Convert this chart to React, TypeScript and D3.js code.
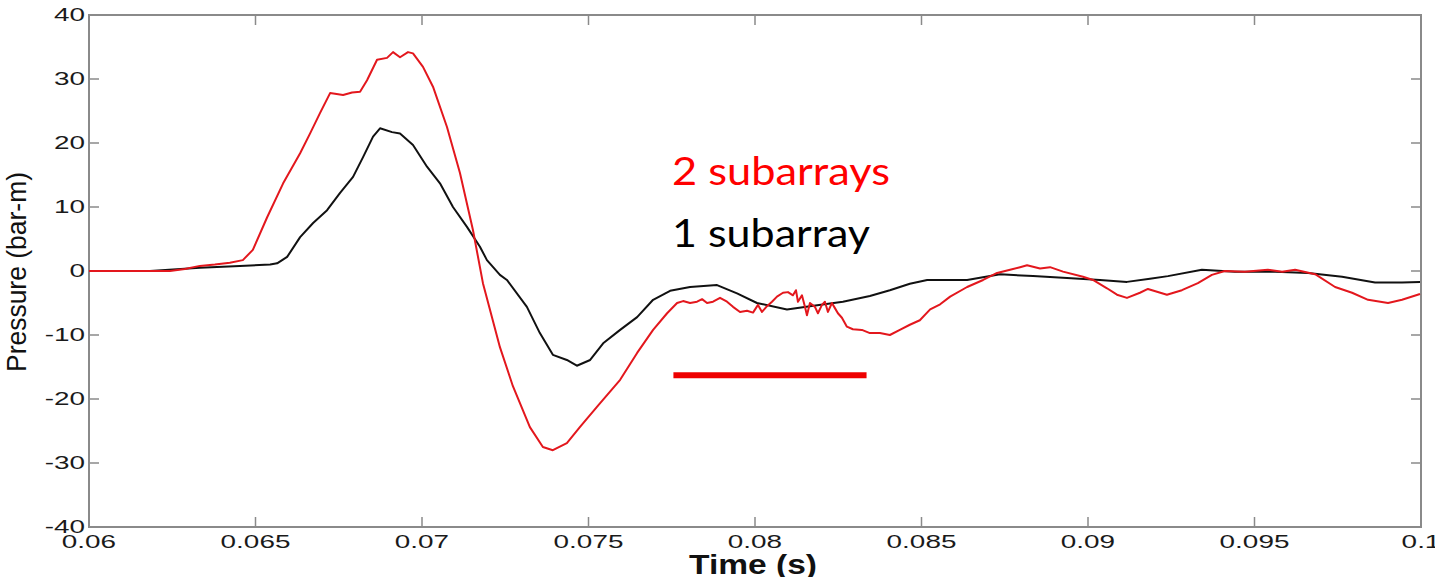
import React from 'react';
import * as d3 from 'd3';

// time (s) / pressure (bar-m)
const redTime = [
  0.06, 0.06243, 0.06288, 0.06333, 0.06378, 0.06423, 0.06462, 0.06492, 0.06535, 0.06583,
  0.06634, 0.06664, 0.06694, 0.06724, 0.06763, 0.0679, 0.06814, 0.06835, 0.06865, 0.06895,
  0.06913, 0.06934, 0.06958, 0.06973, 0.07003, 0.07033, 0.07075, 0.07114, 0.07153, 0.07183,
  0.07234, 0.07273, 0.07324, 0.07363, 0.07393, 0.07435, 0.07474, 0.07526, 0.07595, 0.07646,
  0.07694, 0.07736, 0.07766, 0.07784, 0.07805, 0.07826, 0.07841, 0.07856, 0.07874, 0.07895,
  0.07916, 0.07934, 0.07955, 0.07976, 0.07994, 0.08009, 0.08021, 0.08036, 0.08051, 0.08066,
  0.08084, 0.08099, 0.08114, 0.08123, 0.08129, 0.08141, 0.0815, 0.08156, 0.08165, 0.0818,
  0.08189, 0.08201, 0.0821, 0.08219, 0.08231, 0.0824, 0.08249, 0.08261, 0.08276, 0.08294,
  0.08321, 0.08345, 0.08375, 0.08405, 0.08435, 0.08465, 0.08495, 0.08526, 0.08556, 0.08586,
  0.08637, 0.08685, 0.08727, 0.08766, 0.08796, 0.08817, 0.08856, 0.08886, 0.08925, 0.08985,
  0.09015, 0.09057, 0.09087, 0.09117, 0.09156, 0.0918, 0.09237, 0.09282, 0.0933, 0.09372,
  0.09411, 0.09471, 0.0954, 0.09583, 0.09622, 0.09682, 0.09742, 0.09793, 0.09841, 0.09901,
  0.09943, 0.09997,
];
const redPressure = [
  0, 0, 0.3, 0.8, 1.0, 1.3, 1.7, 3.3, 8.4, 13.7,
  18.4, 21.5, 24.7, 27.8, 27.5, 27.9, 28, 29.8, 33, 33.3,
  34.2, 33.4, 34.2, 34, 31.9, 28.8, 22.5, 15.3, 6.4, -1.9,
  -11.9, -18, -24.4, -27.5, -28, -26.9, -24.4, -21.2, -17, -12.8,
  -9.2, -6.6, -5.0, -4.7, -5.0, -4.8, -4.4, -5.0, -4.8, -4.2,
  -4.8, -5.6, -6.4, -6.2, -6.5, -5.3, -6.4, -5.5, -4.8, -4.0,
  -3.4, -3.3, -3.8, -3.0, -4.8, -3.8, -5.6, -6.9, -5.0, -5.6,
  -6.6, -5.3, -4.8, -6.4, -5.0, -5.8, -6.6, -7.3, -8.7, -9.1,
  -9.2, -9.7, -9.7, -10.0, -9.2, -8.4, -7.7, -6, -5.2, -4,
  -2.5, -1.4, -0.3, 0.2, 0.6, 0.9, 0.4, 0.6, -0.1, -0.9,
  -1.4, -2.7, -3.7, -4.2, -3.4, -2.8, -3.7, -3, -1.9, -0.6,
  0, -0.1, 0.2, -0.1, 0.2, -0.5, -2.5, -3.4, -4.5, -5,
  -4.5, -3.6,
];

const blackTime = [
  0.06, 0.06183, 0.06333, 0.06453, 0.06544, 0.06565, 0.06595, 0.06634, 0.06673, 0.06715,
  0.06754, 0.06793, 0.06823, 0.06853, 0.06874, 0.0691, 0.06934, 0.06973, 0.07015, 0.07054,
  0.07093, 0.07135, 0.07174, 0.07195, 0.07234, 0.07255, 0.07315, 0.07354, 0.07393, 0.07435,
  0.07465, 0.07505, 0.07544, 0.07595, 0.07646, 0.07694, 0.07745, 0.07805, 0.07886, 0.07946,
  0.08006, 0.08096, 0.08165, 0.08264, 0.08345, 0.08405, 0.08465, 0.08517, 0.08637, 0.08736,
  0.08835, 0.08937, 0.09036, 0.09117, 0.09186, 0.0924, 0.09342, 0.09441, 0.09562, 0.09661,
  0.09763, 0.09862, 0.09943, 0.09997,
];
const blackPressure = [
  0, 0, 0.5, 0.8, 1.0, 1.2, 2.2, 5.3, 7.5, 9.5,
  12.2, 14.7, 17.8, 21, 22.3, 21.7, 21.5, 19.7, 16.3, 13.7,
  10, 6.9, 3.8, 1.7, -0.6, -1.4, -5.6, -9.7, -13.1, -13.9,
  -14.8, -13.9, -11.3, -9.2, -7.2, -4.5, -3.1, -2.5, -2.2, -3.5,
  -5.0, -6.0, -5.5, -4.8, -3.9, -3.0, -2.0, -1.4, -1.4, -0.5,
  -0.8, -1.1, -1.4, -1.7, -1.2, -0.8, 0.2, -0.1, -0.1, -0.3,
  -0.9, -1.8, -1.8, -1.7,
];

const xTicks = [0.06, 0.065, 0.07, 0.075, 0.08, 0.085, 0.09, 0.095, 0.1];
const xTickLabels = ['0.06', '0.065', '0.07', '0.075', '0.08', '0.085', '0.09', '0.095', '0.1'];
const yTicks = [-40, -30, -20, -10, 0, 10, 20, 30, 40];

// annotation: red bar under the noisy window
const barStart = 0.07755;
const barEnd = 0.08335;
const barLevel = -16.3;

const W = 1435;
const H = 577;
const plot = { left: 89, right: 1421, top: 15, bottom: 527 };

export default function App() {
  const x = d3.scaleLinear().domain([0.06, 0.1]).range([plot.left, plot.right]);
  const y = d3.scaleLinear().domain([-40, 40]).range([plot.bottom, plot.top]);

  const line = d3
    .line<[number, number]>()
    .x((d) => x(d[0]))
    .y((d) => y(d[1]));

  const red = redTime.map((t, i) => [t, redPressure[i]] as [number, number]);
  const black = blackTime.map((t, i) => [t, blackPressure[i]] as [number, number]);

  const axisColor = '#8a8a8a';
  const tickLen = 10;
  const labelFont = '"Liberation Sans", Arial, sans-serif';

  return (
    <svg
      width={W}
      height={H}
      style={{ position: 'absolute', left: 0, top: 0, background: '#fff' }}
    >
      {/* box */}
      <rect
        x={plot.left}
        y={plot.top}
        width={plot.right - plot.left}
        height={plot.bottom - plot.top}
        fill='none'
        stroke={axisColor}
        strokeWidth={2}
      />

      {/* ticks, inward on all four sides */}
      {xTicks.map((t) => (
        <g key={'xt' + t} stroke={axisColor} strokeWidth={1.5}>
          <line x1={x(t)} x2={x(t)} y1={plot.bottom} y2={plot.bottom - tickLen} />
          <line x1={x(t)} x2={x(t)} y1={plot.top} y2={plot.top + tickLen} />
        </g>
      ))}
      {yTicks.map((v) => (
        <g key={'yt' + v} stroke={axisColor} strokeWidth={1.5}>
          <line x1={plot.left} x2={plot.left + tickLen} y1={y(v)} y2={y(v)} />
          <line x1={plot.right} x2={plot.right - tickLen} y1={y(v)} y2={y(v)} />
        </g>
      ))}

      {/* tick labels (source image is stretched sideways) */}
      {xTicks.map((t, i) => (
        <g key={'xl' + t} transform={`translate(${x(t)},548) scale(1.55,1)`}>
          <text textAnchor='middle' fontFamily={labelFont} fontSize={18} fill='#1a1a1a'>
            {xTickLabels[i]}
          </text>
        </g>
      ))}
      {yTicks.map((v) => (
        <g key={'yl' + v} transform={`translate(85,${y(v)}) scale(1.55,1)`}>
          <text textAnchor='end' dy='0.36em' fontFamily={labelFont} fontSize={18} fill='#1a1a1a'>
            {v}
          </text>
        </g>
      ))}

      {/* axis titles */}
      <text
        x={689}
        y={574}
        fontFamily={labelFont}
        fontSize={27}
        fontWeight='bold'
        fill='#111'
        textLength={128}
        lengthAdjust='spacingAndGlyphs'
      >
        Time (s)
      </text>
      <text
        transform='translate(26,372) rotate(-90)'
        fontFamily={labelFont}
        fontSize={27}
        fill='#111'
        textLength={200}
        lengthAdjust='spacingAndGlyphs'
      >
        Pressure (bar-m)
      </text>

      {/* series */}
      <path d={line(black) ?? ''} fill='none' stroke='#111' strokeWidth={2} strokeLinejoin='round' />
      <path d={line(red) ?? ''} fill='none' stroke='#e3171d' strokeWidth={2} strokeLinejoin='round' />

      {/* annotations */}
      <text
        x={672}
        y={185}
        fontFamily='Lato, "Open Sans", sans-serif'
        fontSize={38}
        fill='#ff0000'
        textLength={218}
        lengthAdjust='spacingAndGlyphs'
      >
        2 subarrays
      </text>
      <text
        x={672}
        y={247}
        fontFamily='Lato, "Open Sans", sans-serif'
        fontSize={38}
        fill='#000'
        textLength={198}
        lengthAdjust='spacingAndGlyphs'
      >
        1 subarray
      </text>
      <line
        x1={x(barStart)}
        x2={x(barEnd)}
        y1={y(barLevel)}
        y2={y(barLevel)}
        stroke='#ee0000'
        strokeWidth={6}
      />
    </svg>
  );
}
